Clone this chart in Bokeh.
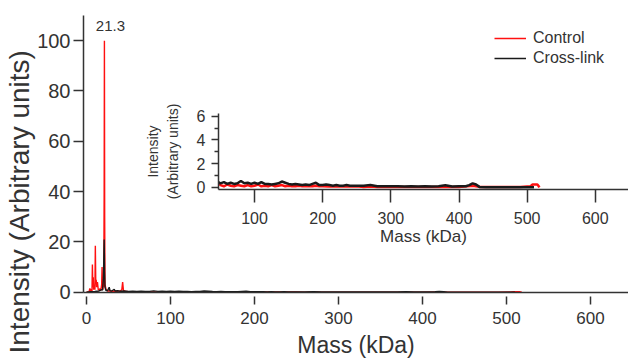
from bokeh.plotting import figure
from bokeh.layouts import column
from bokeh.models import ColumnDataSource, FixedTicker, Legend, LegendItem, Range1d, Title
from bokeh.core.properties import value
from bokeh.embed import file_html
from bokeh.resources import INLINE

# ---------------- data ----------------
control_mass = [0, 3, 4, 5, 6, 6.5, 7, 7.5, 8, 8.5, 9, 10, 10.5, 11, 11.5, 12, 13, 14, 15, 16, 17,
                18, 18.5, 19, 19.5, 20, 20.5, 21, 21.3, 21.6, 22, 23, 24, 25, 27, 30, 33, 36, 40, 42,
                43, 44, 46,
                50, 55, 60, 65, 70, 75, 80, 85, 90, 95, 100, 105, 110, 115, 120, 125, 130, 135, 140,
                145, 150, 155, 160, 165, 170, 175, 180, 185, 190, 195, 200, 210, 220, 230, 240, 250,
                260, 270, 280, 290, 300, 320, 340, 360, 380, 400, 420, 430, 450, 470, 490, 505, 508,
                515, 517, 518]
control_int = [0, 0.2, 1.5, 0.5, 1.2, 0.4, 11, 2, 6, 1, 3, 1, 18.5, 4, 5, 2, 4, 1, 0.8, 1.5, 0.6,
               3, 10, 2, 1, 5, 2, 40, 100, 30, 3, 1.5, 0.8, 0.5, 0.6, 0.4, 0.5, 0.4, 0.5, 1,
               4, 0.6, 0.4,
               0.2, 0.1, 0.25, 0.15, 0.1, 0.2, 0.15, 0.1, 0.2, 0.1, 0.15, 0.25, 0.1, 0.15, 0.1, 0.2,
               0.1, 0.15, 0.2, 0.1, 0.15, 0.1, 0.1, 0.15, 0.1, 0.1, 0.12, 0.1, 0.15, 0.1, 0.1, 0.08,
               0.1, 0.08, 0.08, 0.1, 0.05, 0.08, 0.05, 0.05, 0.05, 0.05, 0.05, 0.04, 0.05, 0.05,
               0.15, 0.05, 0.04, 0.04, 0.04, 0.1, 0.25, 0.25, 0.1, 0]

crosslink_mass = [0, 5, 10, 15, 18, 19, 20, 20.5, 21, 21.5, 22, 23, 25, 27, 28, 30, 33, 34, 37, 40,
                  45,
                  50, 55, 60, 65, 70, 75, 80, 85, 90, 95, 100, 105, 110, 115, 120, 125, 130, 135,
                  140, 145, 150, 155, 160, 165, 170, 175, 180, 185, 190, 195, 200, 205, 210, 215,
                  220, 225, 230, 235, 240, 245, 250, 260, 270, 280, 290, 300, 310, 320, 330, 340,
                  350, 360, 370, 380, 390, 400, 410, 415, 420, 425, 430, 440, 460, 480, 500, 510]
crosslink_int = [0, 0.2, 0.3, 0.5, 1, 0.8, 5, 12, 21, 8, 2, 0.8, 0.6, 2, 0.6, 0.5, 1.2, 0.5, 0.6, 0.4,
                 0.5,
                 0.35, 0.45, 0.3, 0.4, 0.3, 0.35, 0.55, 0.35, 0.4, 0.3, 0.4, 0.3, 0.45, 0.3, 0.3,
                 0.25, 0.3, 0.35, 0.5, 0.4, 0.3, 0.25, 0.3, 0.25, 0.2, 0.25, 0.2, 0.3, 0.4, 0.2,
                 0.2, 0.25, 0.2, 0.15, 0.2, 0.15, 0.15, 0.2, 0.15, 0.15, 0.15, 0.15, 0.2, 0.1, 0.1,
                 0.1, 0.1, 0.08, 0.1, 0.08, 0.1, 0.08, 0.1, 0.18, 0.08, 0.1, 0.1, 0.2, 0.35, 0.25,
                 0.05, 0.02, 0.02, 0.02, 0.02, 0.02]

series_names = ["Control", "Cross-link"]
series_colors = ["#ff1010", "#1a1a1a"]

main_x_ticks = [0, 100, 200, 300, 400, 500, 600]
main_y_ticks = [0, 20, 40, 60, 80, 100]
inset_x_ticks = [100, 200, 300, 400, 500, 600]
inset_y_ticks = [0, 2, 4, 6]
inset_y_minor = [1, 3, 5]

peak_mass = 21.3
peak_int = 100
peak_text = "21.3"

x_label = "Mass (kDa)"
y_label = "Intensity (Arbitrary units)"
inset_y_label = "Intensity\n(Arbitrary units)"

FONT = "Liberation Sans"
TXT = "#333333"
AX = "#333333"

W, H = 628, 360

src_c = ColumnDataSource(dict(x=control_mass, y=control_int))
src_x = ColumnDataSource(dict(x=crosslink_mass, y=crosslink_int))

# ---------------- main figure ----------------
p = figure(width=W, height=H, output_backend="svg", toolbar_location=None,
           x_range=Range1d(-3.6, 645.2), y_range=Range1d(-0.1, 110.0),
           min_border_left=83, min_border_right=0, min_border_top=15, min_border_bottom=68)
p.background_fill_color = "white"
p.border_fill_color = "white"
p.outline_line_color = None
p.grid.visible = False

r1 = p.line("x", "y", source=src_c, line_color=series_colors[0], line_width=1.4)
r2 = p.line("x", "y", source=src_x, line_color=series_colors[1], line_width=1.4)

xa = p.xaxis[0]
xa.ticker = FixedTicker(ticks=main_x_ticks)
xa.axis_label = x_label
xa.axis_label_text_font = FONT
xa.axis_label_text_font_style = "normal"
xa.axis_label_text_font_size = "23px"
xa.axis_label_text_color = TXT
xa.axis_label_standoff = 5
xa.major_label_text_font = FONT
xa.major_label_text_font_size = "17px"
xa.major_label_text_color = TXT
xa.major_label_standoff = 7
xa.major_tick_in = -4
xa.major_tick_out = 12
xa.minor_tick_line_color = None
xa.axis_line_color = AX
xa.axis_line_width = 1.5
xa.major_tick_line_color = AX
xa.major_tick_line_width = 1.5

ya = p.yaxis[0]
ya.ticker = FixedTicker(ticks=main_y_ticks)
ya.major_label_text_font = FONT
ya.major_label_text_font_size = "20px"
ya.major_label_text_color = TXT
ya.major_label_standoff = 3
ya.major_tick_in = 0
ya.major_tick_out = 10
ya.minor_tick_line_color = None
ya.axis_line_color = AX
ya.axis_line_width = 1.5
ya.major_tick_line_color = AX
ya.major_tick_line_width = 1.5

# y-axis title, anchored low like in the reference
p.add_layout(Title(text=y_label, align="left", offset=-61, standoff=0,
                   vertical_align="bottom", text_font=FONT, text_font_style="normal",
                   text_font_size="28px", text_color=TXT), "left")

p.text(x=[peak_mass], y=[peak_int], text=[peak_text], x_offset=6, y_offset=-15,
       text_align="center", text_baseline="middle", text_font=value(FONT),
       text_font_size="15px", text_color=TXT)

legend = Legend(items=[LegendItem(label=series_names[0], renderers=[r1]),
                       LegendItem(label=series_names[1], renderers=[r2])],
                location=(411, 224), orientation="vertical")
legend.background_fill_alpha = 0
legend.border_line_color = None
legend.padding = 0
legend.margin = 0
legend.spacing = 0
legend.glyph_width = 32
legend.glyph_height = 20
legend.label_height = 20
legend.label_standoff = 7
legend.label_text_font = FONT
legend.label_text_font_size = "16px"
legend.label_text_color = TXT
p.add_layout(legend, "center")

# ---------------- inset ----------------
q = figure(width=493, height=152, output_backend="svg", toolbar_location=None,
           x_range=Range1d(47.1, 648.7), y_range=Range1d(-0.17, 6.23),
           min_border_left=77, min_border_right=0, min_border_top=10, min_border_bottom=66,
           styles={"position": "absolute", "left": "135px", "top": "103px"})
q.background_fill_color = None
q.border_fill_color = None
q.outline_line_color = None
q.grid.visible = False
q.line("x", "y", source=src_c, line_color=series_colors[0], line_width=2.5)
q.line("x", "y", source=src_x, line_color=series_colors[1], line_width=2.5)

qx = q.xaxis[0]
qx.ticker = FixedTicker(ticks=inset_x_ticks)
qx.axis_label = x_label
qx.axis_label_text_font = FONT
qx.axis_label_text_font_style = "normal"
qx.axis_label_text_font_size = "17px"
qx.axis_label_text_color = TXT
qx.axis_label_standoff = 0
qx.major_label_text_font = FONT
qx.major_label_text_font_size = "16px"
qx.major_label_text_color = TXT
qx.major_label_standoff = 9
qx.major_tick_in = 0
qx.major_tick_out = 13
qx.minor_tick_line_color = None
qx.axis_line_color = AX
qx.axis_line_width = 1.5
qx.major_tick_line_color = AX
qx.major_tick_line_width = 1.5

qy = q.yaxis[0]
qy.ticker = FixedTicker(ticks=inset_y_ticks, minor_ticks=inset_y_minor)
qy.axis_label = inset_y_label
qy.axis_label_text_font = FONT
qy.axis_label_text_font_style = "normal"
qy.axis_label_text_font_size = "14px"
qy.axis_label_text_color = TXT
qy.axis_label_standoff = 13
qy.major_label_text_font = FONT
qy.major_label_text_font_size = "16px"
qy.major_label_text_color = TXT
qy.major_label_standoff = 6
qy.major_tick_in = 0
qy.major_tick_out = 7
qy.minor_tick_in = 0
qy.minor_tick_out = 4
qy.axis_line_color = AX
qy.axis_line_width = 1.5
qy.major_tick_line_color = AX
qy.major_tick_line_width = 1.5
qy.minor_tick_line_color = AX
qy.minor_tick_line_width = 1.5

layout = column(p, q, width=W, height=H, styles={"position": "relative"})

open("out.html", "w").write(file_html(layout, INLINE))
